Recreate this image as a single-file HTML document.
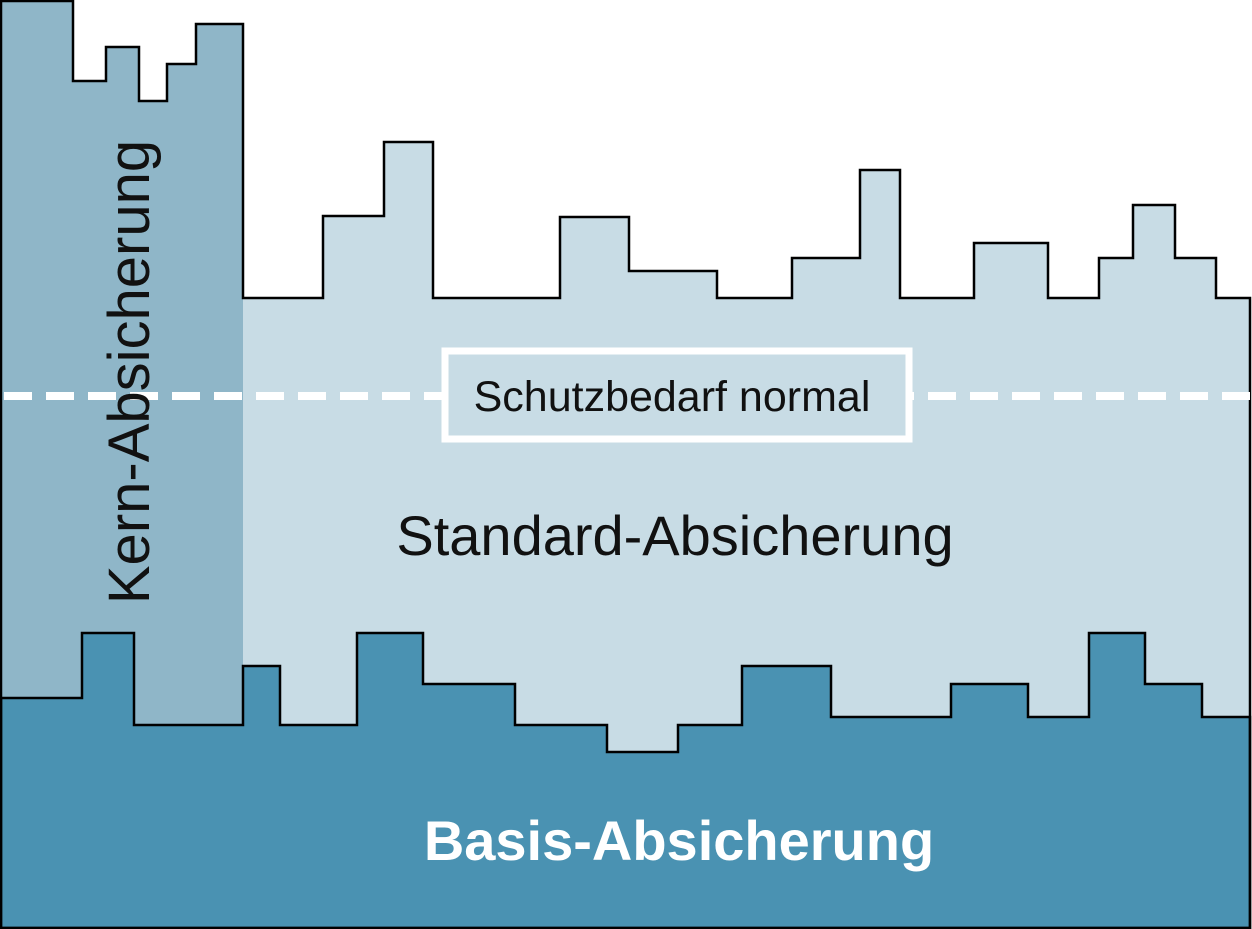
<!DOCTYPE html>
<html><head><style>body{margin:0;background:#fff}svg{display:block}</style></head><body>
<svg width="1252" height="929" viewBox="0 0 1252 929" xmlns="http://www.w3.org/2000/svg" font-family="Liberation Sans, sans-serif">
<path d="M1,928 L1,1 L73,1 L73,81 L106,81 L106,47 L139,47 L139,101 L167,101 L167,64 L196,64 L196,24 L243,24 L243,298 L323,298 L323,216 L384,216 L384,142 L433,142 L433,298 L560,298 L560,217 L629,217 L629,271 L717,271 L717,298 L792,298 L792,258 L860,258 L860,170 L900,170 L900,298 L974,298 L974,243 L1048,243 L1048,298 L1099,298 L1099,258 L1133,258 L1133,205 L1175,205 L1175,258 L1216,258 L1216,298 L1250,298 L1250,928 Z" fill="#c8dce5"/>
<path d="M1,928 L1,1 L73,1 L73,81 L106,81 L106,47 L139,47 L139,101 L167,101 L167,64 L196,64 L196,24 L243,24 L243,928 Z" fill="#8fb6c8"/>
<path d="M1,928 L1,698 L82,698 L82,633 L134,633 L134,725 L243,725 L243,666 L280,666 L280,725 L357,725 L357,633 L423,633 L423,684 L515,684 L515,725 L607,725 L607,752 L678,752 L678,725 L742,725 L742,666 L831,666 L831,717 L951,717 L951,684 L1028,684 L1028,717 L1089,717 L1089,633 L1145,633 L1145,684 L1202,684 L1202,717 L1250,717 L1250,928 Z" fill="#4a92b2" stroke="#000" stroke-width="2.5"/>
<path d="M1,928 L1,1 L73,1 L73,81 L106,81 L106,47 L139,47 L139,101 L167,101 L167,64 L196,64 L196,24 L243,24 L243,298 L323,298 L323,216 L384,216 L384,142 L433,142 L433,298 L560,298 L560,217 L629,217 L629,271 L717,271 L717,298 L792,298 L792,258 L860,258 L860,170 L900,170 L900,298 L974,298 L974,243 L1048,243 L1048,298 L1099,298 L1099,258 L1133,258 L1133,205 L1175,205 L1175,258 L1216,258 L1216,298 L1250,298 L1250,928 Z" fill="none" stroke="#000" stroke-width="2.5"/>
<line x1="4" y1="396" x2="1250" y2="396" stroke="#fff" stroke-width="8" stroke-dasharray="28,14"/>
<rect x="445" y="351" width="464" height="88" fill="#c8dce5" stroke="#fff" stroke-width="7"/>
<text x="672" y="411" font-size="43" text-anchor="middle" fill="#111">Schutzbedarf normal</text>
<text x="675" y="555" font-size="56" text-anchor="middle" fill="#111">Standard-Absicherung</text>
<text x="679" y="860" font-size="56" font-weight="bold" text-anchor="middle" fill="#fff">Basis-Absicherung</text>
<text transform="translate(149,372) rotate(-90)" font-size="58" text-anchor="middle" fill="#111">Kern-Absicherung</text>
</svg>
</body></html>
